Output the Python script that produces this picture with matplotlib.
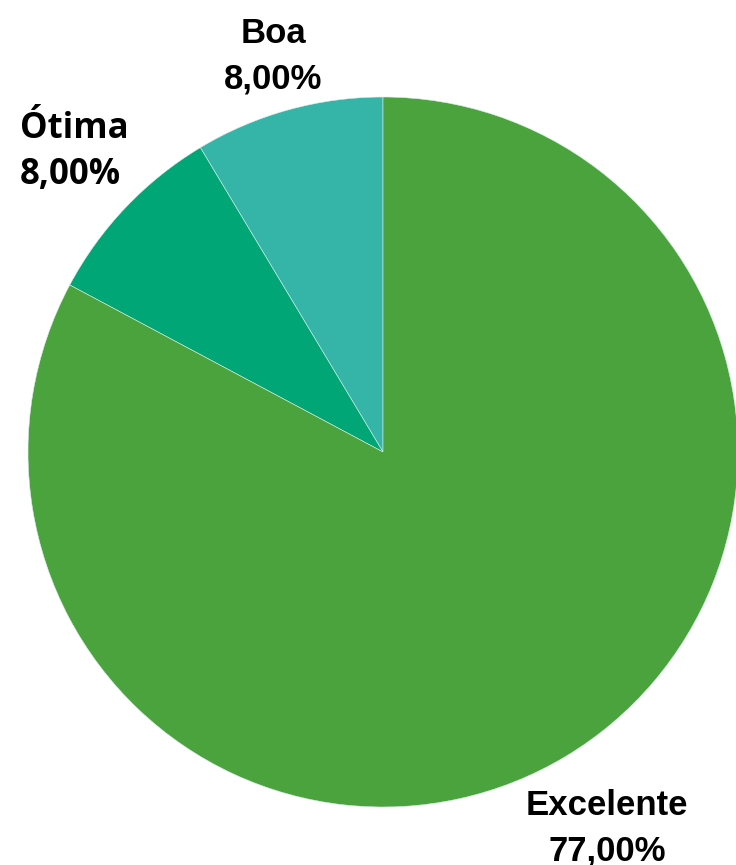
import matplotlib.pyplot as plt

# data
categories = ['Boa', 'Ótima', 'Excelente']
values = [8.0, 8.0, 77.0]
colors = ['#35b5a7', '#00a676', '#4aa33c']

W, H = 736, 865
fig = plt.figure(figsize=(W / 100, H / 100), dpi=100)
ax = fig.add_axes([0, 0, 1, 1])

ax.pie(values, colors=colors, startangle=90, counterclock=True,
       center=(383, H - 452), radius=355,
       wedgeprops=dict(edgecolor='#d8eee8', linewidth=0.4))

# pie() sets its own limits, so fix the pixel frame afterwards
ax.set_xlim(0, W)
ax.set_ylim(0, H)
ax.set_aspect('equal')
ax.axis('off')

# label positions (x, baseline y of the name, alignment, font)
label_pos = {
    'Boa': (273, 43, 'center', 'Liberation Sans'),
    'Ótima': (20, 138, 'left', 'Open Sans'),
    'Excelente': (607, 815, 'center', 'Liberation Sans'),
}

for cat, v in zip(categories, values):
    x, yb, ha, fam = label_pos[cat]
    pct = f'{v:.2f}%'.replace('.', ',')
    ax.text(x, H - yb, cat, ha=ha, va='baseline', fontsize=25,
            fontweight='bold', family=fam)
    ax.text(x, H - yb - 46, pct, ha=ha, va='baseline', fontsize=25,
            fontweight='bold', family=fam)

fig.savefig('out.png', dpi=100)
